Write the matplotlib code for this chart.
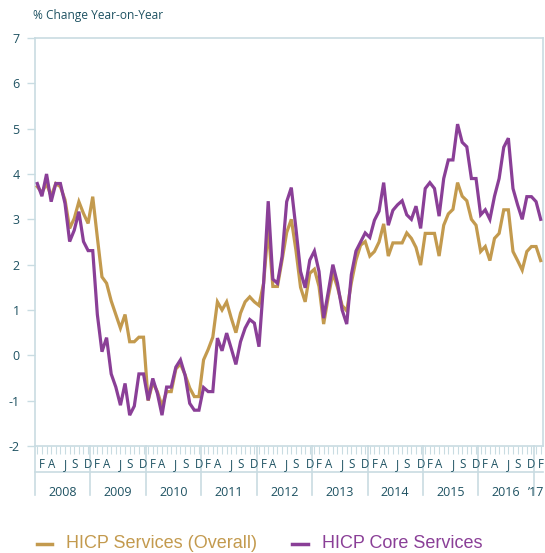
import matplotlib
matplotlib.use("Agg")
import matplotlib.pyplot as plt
from matplotlib.lines import Line2D
from matplotlib.transforms import blended_transform_factory
import numpy as np

# ---------------- data ----------------
years = ["2008", "2009", "2010", "2011", "2012", "2013", "2014", "2015", "2016", "\u201917"]
month_letters = {1: "F", 3: "A", 6: "J", 8: "S", 11: "D"}
yticks = [-2, -1, 0, 1, 2, 3, 4, 5, 6, 7]

hicp_services = [
    3.72, 3.59, 3.79, 3.51, 3.79, 3.72, 3.43, 2.80, 3.02, 3.39, 3.13, 2.91,   # 2008
    3.50, 2.60, 1.73, 1.59, 1.20, 0.90, 0.60, 0.90, 0.30, 0.30, 0.40, 0.40,   # 2009
    -1.00, -0.60, -0.80, -1.12, -0.80, -0.80, -0.30, -0.19, -0.43, -0.72, -0.91, -0.91,  # 2010
    -0.10, 0.13, 0.40, 1.18, 1.00, 1.18, 0.82, 0.50, 0.93, 1.18, 1.29, 1.18,  # 2011
    1.10, 1.59, 2.80, 1.52, 1.52, 2.10, 2.71, 3.00, 2.32, 1.50, 1.18, 1.81,   # 2012
    1.90, 1.52, 0.69, 1.29, 1.81, 1.50, 1.10, 0.98, 1.60, 2.10, 2.43, 2.51,   # 2013
    2.19, 2.29, 2.50, 2.90, 2.19, 2.48, 2.48, 2.48, 2.70, 2.58, 2.38, 1.99,   # 2014
    2.69, 2.69, 2.69, 2.19, 2.87, 3.12, 3.22, 3.81, 3.51, 3.41, 3.00, 2.87,   # 2015
    2.29, 2.40, 2.09, 2.58, 2.69, 3.21, 3.21, 2.29, 2.09, 1.88, 2.29, 2.40,   # 2016
    2.40, 2.09,                                                               # 2017
]
hicp_core_services = [
    3.79, 3.51, 4.00, 3.39, 3.79, 3.79, 3.35, 2.51, 2.76, 3.17, 2.51, 2.31,   # 2008
    2.31, 0.90, 0.08, 0.39, -0.41, -0.70, -1.10, -0.62, -1.32, -1.12, -0.41, -0.41,  # 2009
    -0.99, -0.51, -0.84, -1.32, -0.70, -0.70, -0.26, -0.10, -0.44, -1.06, -1.21, -1.21,  # 2010
    -0.71, -0.80, -0.80, 0.38, 0.10, 0.49, 0.15, -0.20, 0.30, 0.60, 0.79, 0.71,  # 2011
    0.19, 1.59, 3.40, 1.68, 1.59, 2.18, 3.39, 3.70, 2.80, 1.85, 1.49, 2.10,   # 2012
    2.30, 1.85, 0.82, 1.40, 2.00, 1.59, 1.00, 0.69, 1.78, 2.30, 2.50, 2.70,   # 2013
    2.60, 2.98, 3.18, 3.81, 2.87, 3.20, 3.32, 3.41, 3.10, 3.00, 3.29, 2.80,   # 2014
    3.68, 3.81, 3.68, 3.07, 3.90, 4.31, 4.31, 5.10, 4.70, 4.60, 3.90, 3.90,   # 2015
    3.10, 3.21, 3.00, 3.51, 3.90, 4.59, 4.79, 3.68, 3.32, 3.00, 3.50, 3.50,   # 2016
    3.39, 3.00,                                                               # 2017
]
series_names = ["HICP Services (Overall)", "HICP Core Services"]

# ---------------- style ----------------
GOLD = "#C39A4E"
PURPLE = "#8A3F97"
AXC = "#C9DCE2"
TXT = "#1E5262"

W, H = 545, 553
fig = plt.figure(figsize=(W / 100, H / 100), dpi=100)
left, right, top, bottom = 35, 543, 38, 446
ax = fig.add_axes([left / W, 1 - bottom / H, (right - left) / W, (bottom - top) / H])

n = len(hicp_services)
x = np.arange(n)
ax.plot(x, hicp_services, color=GOLD, lw=2.3, solid_joinstyle="miter", zorder=3)
ax.plot(x, hicp_core_services, color=PURPLE, lw=2.3, solid_joinstyle="miter", zorder=3)

ax.set_xlim(-0.5, n - 0.5)
ax.set_ylim(-2, 7)
ax.set_yticks(yticks)
ax.set_yticklabels([str(v) for v in yticks], fontfamily="Open Sans", fontsize=9, color=TXT)
ax.tick_params(axis="y", length=6, width=1, color=AXC, pad=5)
ax.set_xticks(x, minor=True)
ax.set_xticks([])
ax.tick_params(axis="x", which="minor", length=6, width=0.8, color=AXC, direction="out")
for s in ax.spines.values():
    s.set_color(AXC)
    s.set_linewidth(1.2)

trans = blended_transform_factory(ax.transData, ax.transAxes)
ph = bottom - top
def fy(py):
    return (bottom - py) / ph

# month letters
for yi in range(len(years)):
    for m, letter in month_letters.items():
        idx = yi * 12 + m
        if idx < n:
            ax.text(idx, fy(465), letter, transform=trans, ha="center", va="center",
                    fontfamily="Open Sans", fontsize=8.3, color=TXT, clip_on=False)
# horizontal separator line
ax.plot([-0.5, n - 0.5], [fy(472), fy(472)], transform=trans, color=AXC, lw=1.2, clip_on=False)
# year separators and labels
for yi in range(len(years) + 1):
    b = yi * 12 - 0.5
    if b <= n - 0.5:
        ax.plot([b, b], [0, fy(495)], transform=trans, color=AXC, lw=1.2, clip_on=False)
for yi, lab in enumerate(years):
    start = yi * 12 - 0.5
    end = min(yi * 12 + 11.5, n - 0.5)
    if yi == len(years) - 1:
        ax.text(end + 0.2, fy(492), lab, transform=trans, ha="right", va="center",
                fontfamily="Open Sans", fontsize=9, color=TXT, clip_on=False)
    else:
        ax.text((start + end) / 2, fy(492), lab, transform=trans, ha="center", va="center",
                fontfamily="Open Sans", fontsize=9, color=TXT, clip_on=False)

# title
fig.text(33 / W, 1 - 15 / H, "% Change Year-on-Year", ha="left", va="center",
         fontfamily="Open Sans", fontsize=8.6, color=TXT)

# legend
ly = 1 - 544 / H
fig.add_artist(Line2D([37 / W, 52 / W], [ly, ly], color=GOLD, lw=2.5))
fig.text(66 / W, ly, series_names[0], ha="left", va="center",
         fontfamily="Liberation Sans", fontsize=13, color=GOLD)
fig.add_artist(Line2D([292 / W, 308 / W], [ly, ly], color=PURPLE, lw=2.5))
fig.text(322 / W, ly, series_names[1], ha="left", va="center",
         fontfamily="Liberation Sans", fontsize=13, color=PURPLE)

fig.savefig("out.png", dpi=100)
